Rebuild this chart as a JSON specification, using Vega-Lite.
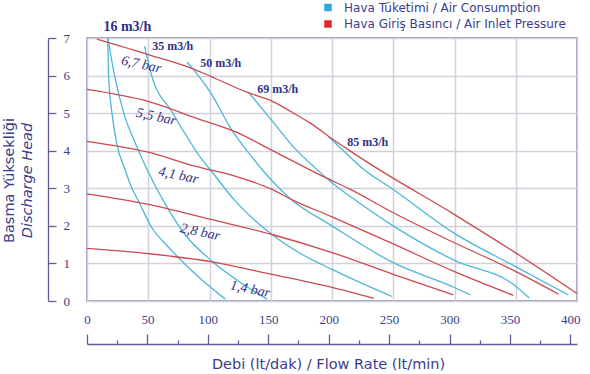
{
  "$schema": "https://vega.github.io/schema/vega-lite/v6.json",
  "width": 490,
  "height": 263,
  "autosize": {"type": "none"},
  "padding": {"left": 87, "top": 38, "right": 13, "bottom": 73},
  "background": "white",
  "config": {
    "view": {"stroke": "#7b7da6", "strokeWidth": 1.5},
    "font": "Lato"
  },
  "datasets": {
    "curves": [
      {"series": "16 m3/h a", "type": "Hava Tüketimi / Air Consumption", "flow": 17, "head": 7.0},
      {"series": "16 m3/h a", "type": "Hava Tüketimi / Air Consumption", "flow": 17.6, "head": 6.0},
      {"series": "16 m3/h a", "type": "Hava Tüketimi / Air Consumption", "flow": 20.4, "head": 5.0},
      {"series": "16 m3/h a", "type": "Hava Tüketimi / Air Consumption", "flow": 24.5, "head": 4.16},
      {"series": "16 m3/h a", "type": "Hava Tüketimi / Air Consumption", "flow": 31, "head": 3.5},
      {"series": "16 m3/h a", "type": "Hava Tüketimi / Air Consumption", "flow": 36, "head": 3.05},
      {"series": "16 m3/h a", "type": "Hava Tüketimi / Air Consumption", "flow": 42, "head": 2.66},
      {"series": "16 m3/h a", "type": "Hava Tüketimi / Air Consumption", "flow": 53, "head": 1.95},
      {"series": "16 m3/h a", "type": "Hava Tüketimi / Air Consumption", "flow": 66, "head": 1.45},
      {"series": "16 m3/h a", "type": "Hava Tüketimi / Air Consumption", "flow": 80, "head": 0.98},
      {"series": "16 m3/h a", "type": "Hava Tüketimi / Air Consumption", "flow": 96, "head": 0.5},
      {"series": "16 m3/h a", "type": "Hava Tüketimi / Air Consumption", "flow": 113, "head": 0.05},
      {"series": "16 m3/h b", "type": "Hava Tüketimi / Air Consumption", "flow": 17, "head": 7.0},
      {"series": "16 m3/h b", "type": "Hava Tüketimi / Air Consumption", "flow": 22.5, "head": 6.0},
      {"series": "16 m3/h b", "type": "Hava Tüketimi / Air Consumption", "flow": 30, "head": 5.0},
      {"series": "16 m3/h b", "type": "Hava Tüketimi / Air Consumption", "flow": 40, "head": 4.16},
      {"series": "16 m3/h b", "type": "Hava Tüketimi / Air Consumption", "flow": 49, "head": 3.5},
      {"series": "16 m3/h b", "type": "Hava Tüketimi / Air Consumption", "flow": 64, "head": 2.57},
      {"series": "16 m3/h b", "type": "Hava Tüketimi / Air Consumption", "flow": 80, "head": 1.77},
      {"series": "16 m3/h b", "type": "Hava Tüketimi / Air Consumption", "flow": 102, "head": 1.06},
      {"series": "16 m3/h b", "type": "Hava Tüketimi / Air Consumption", "flow": 125, "head": 0.5},
      {"series": "16 m3/h b", "type": "Hava Tüketimi / Air Consumption", "flow": 147, "head": 0.05},
      {"series": "35 m3/h", "type": "Hava Tüketimi / Air Consumption", "flow": 47, "head": 6.78},
      {"series": "35 m3/h", "type": "Hava Tüketimi / Air Consumption", "flow": 53, "head": 5.98},
      {"series": "35 m3/h", "type": "Hava Tüketimi / Air Consumption", "flow": 69, "head": 5.05},
      {"series": "35 m3/h", "type": "Hava Tüketimi / Air Consumption", "flow": 83, "head": 4.3},
      {"series": "35 m3/h", "type": "Hava Tüketimi / Air Consumption", "flow": 93, "head": 3.8},
      {"series": "35 m3/h", "type": "Hava Tüketimi / Air Consumption", "flow": 100, "head": 3.52},
      {"series": "35 m3/h", "type": "Hava Tüketimi / Air Consumption", "flow": 120, "head": 2.7},
      {"series": "35 m3/h", "type": "Hava Tüketimi / Air Consumption", "flow": 151, "head": 1.77},
      {"series": "35 m3/h", "type": "Hava Tüketimi / Air Consumption", "flow": 175, "head": 1.25},
      {"series": "35 m3/h", "type": "Hava Tüketimi / Air Consumption", "flow": 200, "head": 0.84},
      {"series": "35 m3/h", "type": "Hava Tüketimi / Air Consumption", "flow": 225, "head": 0.46},
      {"series": "35 m3/h", "type": "Hava Tüketimi / Air Consumption", "flow": 249, "head": 0.12},
      {"series": "50 m3/h", "type": "Hava Tüketimi / Air Consumption", "flow": 81.6, "head": 6.36},
      {"series": "50 m3/h", "type": "Hava Tüketimi / Air Consumption", "flow": 87, "head": 6.16},
      {"series": "50 m3/h", "type": "Hava Tüketimi / Air Consumption", "flow": 101, "head": 5.54},
      {"series": "50 m3/h", "type": "Hava Tüketimi / Air Consumption", "flow": 118, "head": 4.56},
      {"series": "50 m3/h", "type": "Hava Tüketimi / Air Consumption", "flow": 133, "head": 3.9},
      {"series": "50 m3/h", "type": "Hava Tüketimi / Air Consumption", "flow": 151, "head": 3.2},
      {"series": "50 m3/h", "type": "Hava Tüketimi / Air Consumption", "flow": 166, "head": 2.72},
      {"series": "50 m3/h", "type": "Hava Tüketimi / Air Consumption", "flow": 200, "head": 2.0},
      {"series": "50 m3/h", "type": "Hava Tüketimi / Air Consumption", "flow": 250, "head": 1.02},
      {"series": "50 m3/h", "type": "Hava Tüketimi / Air Consumption", "flow": 300, "head": 0.36},
      {"series": "50 m3/h", "type": "Hava Tüketimi / Air Consumption", "flow": 313, "head": 0.16},
      {"series": "69 m3/h", "type": "Hava Tüketimi / Air Consumption", "flow": 132, "head": 5.55},
      {"series": "69 m3/h", "type": "Hava Tüketimi / Air Consumption", "flow": 151, "head": 4.8},
      {"series": "69 m3/h", "type": "Hava Tüketimi / Air Consumption", "flow": 170, "head": 4.05},
      {"series": "69 m3/h", "type": "Hava Tüketimi / Air Consumption", "flow": 186, "head": 3.55},
      {"series": "69 m3/h", "type": "Hava Tüketimi / Air Consumption", "flow": 200, "head": 3.15},
      {"series": "69 m3/h", "type": "Hava Tüketimi / Air Consumption", "flow": 225, "head": 2.55},
      {"series": "69 m3/h", "type": "Hava Tüketimi / Air Consumption", "flow": 250, "head": 2.0},
      {"series": "69 m3/h", "type": "Hava Tüketimi / Air Consumption", "flow": 300, "head": 1.08},
      {"series": "69 m3/h", "type": "Hava Tüketimi / Air Consumption", "flow": 349, "head": 0.42},
      {"series": "69 m3/h", "type": "Hava Tüketimi / Air Consumption", "flow": 361, "head": 0.08},
      {"series": "85 m3/h", "type": "Hava Tüketimi / Air Consumption", "flow": 197, "head": 4.38},
      {"series": "85 m3/h", "type": "Hava Tüketimi / Air Consumption", "flow": 210, "head": 3.98},
      {"series": "85 m3/h", "type": "Hava Tüketimi / Air Consumption", "flow": 226, "head": 3.5},
      {"series": "85 m3/h", "type": "Hava Tüketimi / Air Consumption", "flow": 250, "head": 2.97},
      {"series": "85 m3/h", "type": "Hava Tüketimi / Air Consumption", "flow": 299, "head": 1.82},
      {"series": "85 m3/h", "type": "Hava Tüketimi / Air Consumption", "flow": 349, "head": 0.93},
      {"series": "85 m3/h", "type": "Hava Tüketimi / Air Consumption", "flow": 393, "head": 0.16},
      {"series": "6,7 bar", "type": "Hava Giriş Basıncı / Air Inlet Pressure", "flow": 8, "head": 6.97},
      {"series": "6,7 bar", "type": "Hava Giriş Basıncı / Air Inlet Pressure", "flow": 50, "head": 6.56},
      {"series": "6,7 bar", "type": "Hava Giriş Basıncı / Air Inlet Pressure", "flow": 88, "head": 6.16},
      {"series": "6,7 bar", "type": "Hava Giriş Basıncı / Air Inlet Pressure", "flow": 101, "head": 5.98},
      {"series": "6,7 bar", "type": "Hava Giriş Basıncı / Air Inlet Pressure", "flow": 131, "head": 5.55},
      {"series": "6,7 bar", "type": "Hava Giriş Basıncı / Air Inlet Pressure", "flow": 151, "head": 5.32},
      {"series": "6,7 bar", "type": "Hava Giriş Basıncı / Air Inlet Pressure", "flow": 166, "head": 5.05},
      {"series": "6,7 bar", "type": "Hava Giriş Basıncı / Air Inlet Pressure", "flow": 182, "head": 4.74},
      {"series": "6,7 bar", "type": "Hava Giriş Basıncı / Air Inlet Pressure", "flow": 200, "head": 4.32},
      {"series": "6,7 bar", "type": "Hava Giriş Basıncı / Air Inlet Pressure", "flow": 215, "head": 3.99},
      {"series": "6,7 bar", "type": "Hava Giriş Basıncı / Air Inlet Pressure", "flow": 232, "head": 3.63},
      {"series": "6,7 bar", "type": "Hava Giriş Basıncı / Air Inlet Pressure", "flow": 300, "head": 2.3},
      {"series": "6,7 bar", "type": "Hava Giriş Basıncı / Air Inlet Pressure", "flow": 350, "head": 1.28},
      {"series": "6,7 bar", "type": "Hava Giriş Basıncı / Air Inlet Pressure", "flow": 400, "head": 0.2},
      {"series": "5,5 bar", "type": "Hava Giriş Basıncı / Air Inlet Pressure", "flow": 0, "head": 5.63},
      {"series": "5,5 bar", "type": "Hava Giriş Basıncı / Air Inlet Pressure", "flow": 50, "head": 5.31},
      {"series": "5,5 bar", "type": "Hava Giriş Basıncı / Air Inlet Pressure", "flow": 93, "head": 4.82},
      {"series": "5,5 bar", "type": "Hava Giriş Basıncı / Air Inlet Pressure", "flow": 120, "head": 4.52},
      {"series": "5,5 bar", "type": "Hava Giriş Basıncı / Air Inlet Pressure", "flow": 151, "head": 4.01},
      {"series": "5,5 bar", "type": "Hava Giriş Basıncı / Air Inlet Pressure", "flow": 193, "head": 3.31},
      {"series": "5,5 bar", "type": "Hava Giriş Basıncı / Air Inlet Pressure", "flow": 215, "head": 2.97},
      {"series": "5,5 bar", "type": "Hava Giriş Basıncı / Air Inlet Pressure", "flow": 250, "head": 2.35},
      {"series": "5,5 bar", "type": "Hava Giriş Basıncı / Air Inlet Pressure", "flow": 300, "head": 1.55},
      {"series": "5,5 bar", "type": "Hava Giriş Basıncı / Air Inlet Pressure", "flow": 349, "head": 0.8},
      {"series": "5,5 bar", "type": "Hava Giriş Basıncı / Air Inlet Pressure", "flow": 385, "head": 0.18},
      {"series": "4,1 bar", "type": "Hava Giriş Basıncı / Air Inlet Pressure", "flow": 0, "head": 4.25},
      {"series": "4,1 bar", "type": "Hava Giriş Basıncı / Air Inlet Pressure", "flow": 50, "head": 3.96},
      {"series": "4,1 bar", "type": "Hava Giriş Basıncı / Air Inlet Pressure", "flow": 88, "head": 3.59},
      {"series": "4,1 bar", "type": "Hava Giriş Basıncı / Air Inlet Pressure", "flow": 120, "head": 3.33},
      {"series": "4,1 bar", "type": "Hava Giriş Basıncı / Air Inlet Pressure", "flow": 151, "head": 2.97},
      {"series": "4,1 bar", "type": "Hava Giriş Basıncı / Air Inlet Pressure", "flow": 167, "head": 2.7},
      {"series": "4,1 bar", "type": "Hava Giriş Basıncı / Air Inlet Pressure", "flow": 200, "head": 2.24},
      {"series": "4,1 bar", "type": "Hava Giriş Basıncı / Air Inlet Pressure", "flow": 250, "head": 1.52},
      {"series": "4,1 bar", "type": "Hava Giriş Basıncı / Air Inlet Pressure", "flow": 300, "head": 0.78},
      {"series": "4,1 bar", "type": "Hava Giriş Basıncı / Air Inlet Pressure", "flow": 348, "head": 0.15},
      {"series": "2,8 bar", "type": "Hava Giriş Basıncı / Air Inlet Pressure", "flow": 0, "head": 2.85},
      {"series": "2,8 bar", "type": "Hava Giriş Basıncı / Air Inlet Pressure", "flow": 50, "head": 2.57},
      {"series": "2,8 bar", "type": "Hava Giriş Basıncı / Air Inlet Pressure", "flow": 101, "head": 2.17},
      {"series": "2,8 bar", "type": "Hava Giriş Basıncı / Air Inlet Pressure", "flow": 151, "head": 1.77},
      {"series": "2,8 bar", "type": "Hava Giriş Basıncı / Air Inlet Pressure", "flow": 200, "head": 1.29},
      {"series": "2,8 bar", "type": "Hava Giriş Basıncı / Air Inlet Pressure", "flow": 250, "head": 0.71},
      {"series": "2,8 bar", "type": "Hava Giriş Basıncı / Air Inlet Pressure", "flow": 299, "head": 0.16},
      {"series": "1,4 bar", "type": "Hava Giriş Basıncı / Air Inlet Pressure", "flow": 0, "head": 1.4},
      {"series": "1,4 bar", "type": "Hava Giriş Basıncı / Air Inlet Pressure", "flow": 50, "head": 1.26},
      {"series": "1,4 bar", "type": "Hava Giriş Basıncı / Air Inlet Pressure", "flow": 101, "head": 1.05},
      {"series": "1,4 bar", "type": "Hava Giriş Basıncı / Air Inlet Pressure", "flow": 151, "head": 0.71},
      {"series": "1,4 bar", "type": "Hava Giriş Basıncı / Air Inlet Pressure", "flow": 200, "head": 0.36},
      {"series": "1,4 bar", "type": "Hava Giriş Basıncı / Air Inlet Pressure", "flow": 234, "head": 0.07}
    ],
    "flowlabels": [
      {"label": "16 m3/h", "flow": 13.4, "head": 7.3},
      {"label": "35 m3/h", "flow": 53.3, "head": 6.78},
      {"label": "50 m3/h", "flow": 92.4, "head": 6.34},
      {"label": "69 m3/h", "flow": 138.9, "head": 5.65},
      {"label": "85 m3/h", "flow": 212.4, "head": 4.23}
    ],
    "barlabels": [
      {"label": "6,7 bar", "flow": 44.3, "head": 6.29},
      {"label": "5,5 bar", "flow": 56.5, "head": 4.9},
      {"label": "4,1 bar", "flow": 74.5, "head": 3.34},
      {"label": "2,8 bar", "flow": 92.4, "head": 1.83},
      {"label": "1,4 bar", "flow": 133.2, "head": 0.31}
    ]
  },
  "layer": [
    {
      "data": {"name": "curves"},
      "mark": {"type": "line", "strokeWidth": 1.3, "interpolate": "monotone"},
      "encoding": {
        "x": {
          "field": "flow",
          "type": "quantitative",
          "scale": {"domain": [0, 400], "nice": false, "zero": false},
          "axis": {
            "orient": "bottom",
            "values": [0, 50, 100, 150, 200, 250, 300, 350, 400],
            "grid": true,
            "gridColor": "#d1d1de",
            "gridWidth": 1.5,
            "domain": false,
            "ticks": false,
            "labels": false,
            "title": null
          }
        },
        "y": {
          "field": "head",
          "type": "quantitative",
          "scale": {"domain": [0, 7], "nice": false},
          "axis": {
            "orient": "left",
            "values": [0, 1, 2, 3, 4, 5, 6, 7],
            "grid": true,
            "gridColor": "#d1d1de",
            "gridWidth": 1.5,
            "domain": false,
            "ticks": false,
            "labels": false,
            "title": null
          }
        },
        "color": {
          "field": "type",
          "type": "nominal",
          "scale": {
            "domain": ["Hava Tüketimi / Air Consumption", "Hava Giriş Basıncı / Air Inlet Pressure"],
            "range": ["#4db6d9", "#cc4a4e"]
          },
          "legend": {
            "orient": "none",
            "legendX": 235,
            "legendY": -36.5,
            "title": null,
            "padding": 0,
            "rowPadding": 4.5,
            "symbolType": "square",
            "symbolSize": 56,
            "labelFont": "DejaVu Sans",
            "labelFontSize": 12,
            "labelColor": "#3b3d8a",
            "labelOffset": 10,
            "labelLimit": 400,
            "encode": {
              "symbols": {
                "update": {
                  "fill": {"signal": "datum.value === 'Hava Tüketimi / Air Consumption' ? '#2aa8e0' : '#e2232a'"},
                  "stroke": {"value": "transparent"},
                  "strokeWidth": {"value": 0},
                  "opacity": {"value": 1}
                }
              }
            }
          }
        },
        "detail": {"field": "series", "type": "nominal"}
      }
    },
    {
      "data": {"name": "barlabels"},
      "mark": {
        "type": "text",
        "font": "Liberation Serif",
        "fontStyle": "italic",
        "fontSize": 14,
        "angle": 12,
        "align": "center",
        "baseline": "middle",
        "color": "#2f3185"
      },
      "encoding": {
        "x": {"field": "flow", "type": "quantitative", "scale": {"domain": [0, 400], "nice": false, "zero": false}, "axis": null},
        "y": {
          "field": "head",
          "type": "quantitative",
          "scale": {"domain": [0, 7], "nice": false},
          "axis": {
            "orient": "left",
            "domain": false,
            "ticks": false,
            "labels": false,
            "grid": false,
            "title": "Discharge Head",
            "titleFont": "DejaVu Sans",
            "titleFontSize": 14.5,
            "titleFontWeight": "normal",
            "titleFontStyle": "italic",
            "titleColor": "#3b3d8a",
            "titleX": -60,
            "titleY": 142,
            "titleAngle": 270,
            "titleAlign": "center",
            "titleBaseline": "middle"
          }
        },
        "text": {"field": "label", "type": "nominal"}
      }
    },
    {
      "data": {"name": "flowlabels"},
      "mark": {
        "type": "text",
        "font": "Liberation Serif",
        "fontWeight": "bold",
        "align": "left",
        "baseline": "middle",
        "color": "#2f3185"
      },
      "encoding": {
        "x": {"field": "flow", "type": "quantitative", "scale": {"domain": [0, 400], "nice": false, "zero": false}, "axis": null},
        "y": {"field": "head", "type": "quantitative", "scale": {"domain": [0, 7], "nice": false}, "axis": null},
        "text": {"field": "label", "type": "nominal"},
        "size": {"condition": {"test": "datum.label === '16 m3/h'", "value": 14}, "value": 12}
      }
    },
    {
      "data": {"name": "flowlabels"},
      "mark": {"type": "point", "opacity": 0},
      "encoding": {
        "x": {
          "field": "flow",
          "type": "quantitative",
          "scale": {"domain": [0, 405.5], "nice": false, "zero": false},
          "axis": {
            "orient": "top",
            "offset": -306,
            "values": [0, 25, 50, 75, 100, 125, 150, 175, 200, 225, 250, 275, 300, 325, 350, 375, 400],
            "grid": false,
            "domainColor": "#5d5f96",
            "domainWidth": 1.3,
            "tickColor": "#5d5f96",
            "tickWidth": 1.3,
            "tickSize": {"condition": {"test": "datum.value % 50 === 0", "value": 10}, "value": 4},
            "labelExpr": "datum.value % 50 === 0 ? datum.label : ''",
            "labelFont": "Liberation Serif",
            "labelFontSize": 13,
            "labelColor": "#3b3d8a",
            "labelPadding": 8,
            "labelFlush": false,
            "labelOverlap": false,
            "title": "Debi (lt/dak) / Flow Rate (lt/min)",
            "titleFont": "DejaVu Sans",
            "titleFontSize": 14.5,
            "titleFontWeight": "normal",
            "titleColor": "#3b3d8a",
            "titleX": 241,
            "titleY": 20,
            "titleAlign": "center",
            "titleBaseline": "middle",
            "titleAngle": 0
          }
        },
        "y": {
          "field": "head",
          "type": "quantitative",
          "scale": {"domain": [0, 7], "nice": false, "zero": false},
          "axis": {
            "orient": "right",
            "offset": -529,
            "values": [0, 1, 2, 3, 4, 5, 6, 7],
            "grid": false,
            "domainColor": "#5d5f96",
            "domainWidth": 1.3,
            "tickColor": "#5d5f96",
            "tickWidth": 1.3,
            "tickSize": 8,
            "labelFont": "Liberation Serif",
            "labelFontSize": 13,
            "labelColor": "#3b3d8a",
            "labelPadding": 7,
            "labelFlush": false,
            "title": "Basma Yüksekliği",
            "titleFont": "DejaVu Sans",
            "titleFontSize": 14.5,
            "titleFontWeight": "normal",
            "titleColor": "#3b3d8a",
            "titleX": -39,
            "titleY": 142,
            "titleAngle": 270,
            "titleAlign": "center",
            "titleBaseline": "middle"
          }
        }
      }
    }
  ],
  "resolve": {"scale": {"x": "independent", "y": "independent"}, "axis": {"x": "independent", "y": "independent"}}
}
